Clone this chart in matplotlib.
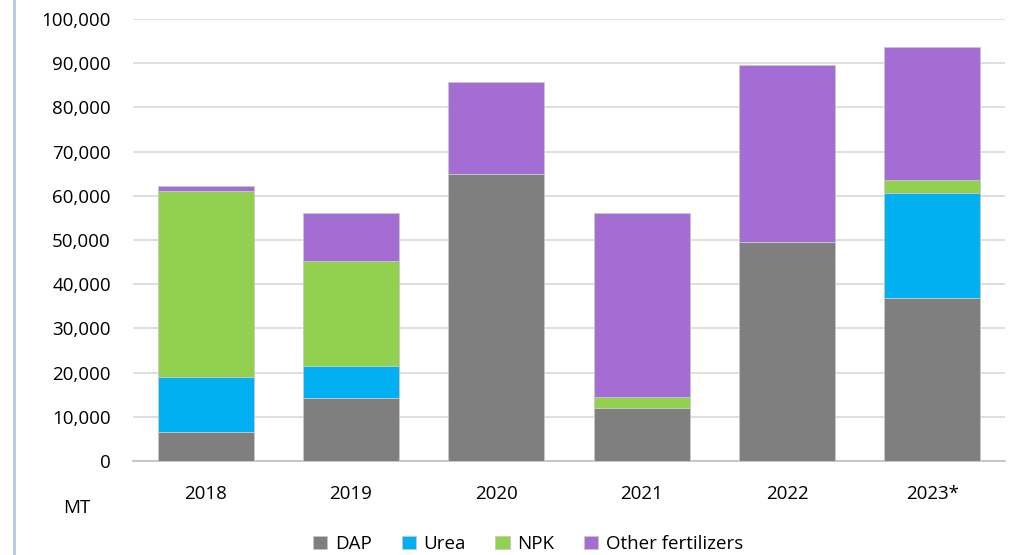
import matplotlib.pyplot as plt
from matplotlib.ticker import FuncFormatter
from matplotlib.lines import Line2D

years = ['2018', '2019', '2020', '2021', '2022', '2023*']
dap = [6500, 14250, 64900, 12000, 49500, 36900]
urea = [12500, 7250, 0, 0, 0, 23700]
npk = [42000, 23700, 0, 2500, 0, 3000]
other = [1300, 10900, 20800, 41600, 40100, 30100]

series = [('DAP', dap, '#7F7F7F'), ('Urea', urea, '#00B0F0'),
          ('NPK', npk, '#92D050'), ('Other fertilizers', other, '#A46DD4')]

plt.rcParams['font.family'] = ['Open Sans', 'DejaVu Sans']
fs = 13.5

fig = plt.figure(figsize=(10.27, 5.55), dpi=100)
ax = fig.add_axes([0.1295, 0.1694, 0.8491, 0.7964])

x = list(range(len(years)))
bottom = [0] * len(years)
for name, vals, col in series:
    ax.bar(x, vals, bottom=bottom, width=0.66, color=col,
           edgecolor='#C8C8C8', linewidth=0.6, zorder=3, label=name)
    bottom = [b + v for b, v in zip(bottom, vals)]

ax.set_ylim(0, 100000)
ax.set_xlim(-0.5, 5.5)
ax.set_yticks(range(0, 100001, 10000))
ax.yaxis.set_major_formatter(FuncFormatter(lambda v, p: f'{int(v):,}'))
ax.grid(axis='y', color='#D9D9D9', linewidth=1.2, zorder=0)
for s in ['top', 'right', 'left']:
    ax.spines[s].set_visible(False)
ax.spines['bottom'].set_color('#BFBFBF')
ax.spines['bottom'].set_linewidth(1.2)
ax.tick_params(axis='y', length=0, pad=16, labelsize=fs, colors='#000000')
ax.tick_params(axis='x', length=0, pad=17, labelsize=fs)
ax.set_xticks(x)
ax.set_xticklabels(years)

fig.text(77 / 1027, 1 - 508 / 555, 'MT', fontsize=fs, ha='center', va='center')

fig.legend(loc='center', bbox_to_anchor=(528 / 1027, 1 - 544 / 555), ncol=4,
           frameon=False, fontsize=fs, handlelength=0.75, handleheight=0.75,
           handletextpad=0.4, columnspacing=1.6)

fig.add_artist(Line2D([14 / 1027, 14 / 1027], [0, 1], color='#B4C7E7', linewidth=2))

fig.savefig('out.png', dpi=100)
